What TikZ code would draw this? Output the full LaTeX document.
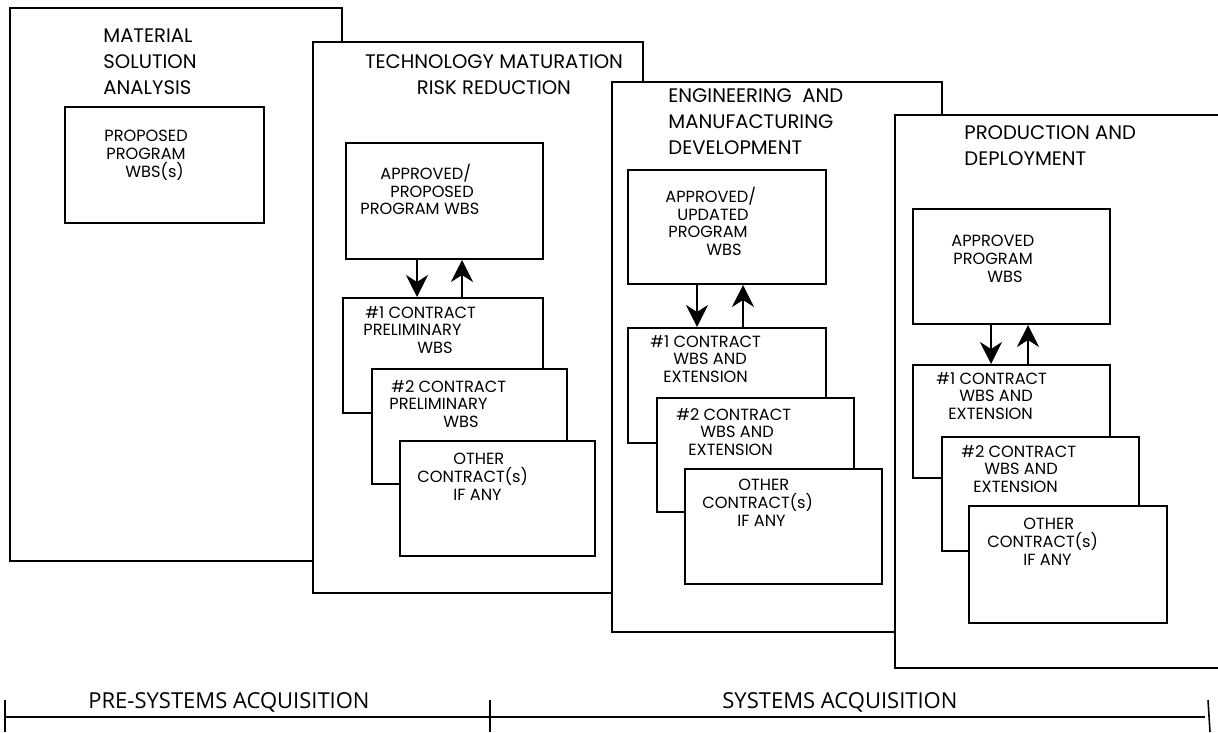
\documentclass[tikz,border=0pt]{standalone}
\usepackage{fontspec}
\setmainfont{Poppins}
\newfontfamily\erafont{Open Sans}
\usetikzlibrary{arrows.meta,fit}

\tikzset{
  phase/.style={draw, line width=1pt, fill=white},
  phasetext/.style={inner sep=0pt, align=left, anchor=north west, font=\fontsize{9.8}{13}\selectfont},
  wbs/.style={draw, line width=1pt, fill=white, inner sep=0pt},
  wbstext/.style={inner sep=0pt, align=left, anchor=north west, font=\fontsize{8.1}{8.8}\selectfont},
  flow/.style={line width=0.9pt, -{Stealth[length=11pt,width=11pt,inset=3.5pt]}},
  era/.style={inner sep=0pt, anchor=west, font=\erafont\fontsize{11}{13}\selectfont}
}

\begin{document}
\begin{tikzpicture}[x=0.5pt,y=-0.5pt]
\useasboundingbox (0,0) rectangle (1218,732);

% material solution analysis
\draw[phase] (10,8) rectangle (342,561);
\node[phasetext] (msa) at (103,28) {MATERIAL\\SOLUTION\\ANALYSIS};
\node[wbs, fit={(65,107) (264,223)}] (msaA) {};
\node[wbstext] (msaAtxt) at (104,130) {PROPOSED\\\hspace*{1pt}PROGRAM\\\hspace*{10.5pt}WBS(s)};

% technology maturation risk reduction
\draw[phase] (313,42) rectangle (643,593);
\node[phasetext, align=center, anchor=north] (tmrr) at (494,54) {TECHNOLOGY MATURATION\\RISK REDUCTION};
\node[wbs, fit={(346,143) (543,259)}] (tmrrA) {};
\node[wbstext] (tmrrAtxt) at (360,164) {\hspace*{10pt}APPROVED/\\\hspace*{15pt}PROPOSED\\PROGRAM WBS};
\node[wbs, fit={(343,298) (543,413)}] (tmrrB) {};
\node[wbstext] (tmrrBtxt) at (363,306) {\hspace*{1pt}\#1 CONTRACT\\PRELIMINARY\\\hspace*{27pt}WBS};
\node[wbs, fit={(372,369) (567,484)}] (tmrrC) {};
\node[wbstext] (tmrrCtxt) at (389,380) {\hspace*{1pt}\#2 CONTRACT\\PRELIMINARY\\\hspace*{27pt}WBS};
\node[wbs, fit={(400,441) (595,556)}] (tmrrD) {};
\node[wbstext] (tmrrDtxt) at (417,453) {\hspace*{18pt}OTHER\\CONTRACT(s)\\\hspace*{18pt}IF ANY};
\draw[flow] (tmrrA.south -| 417,0) -- (tmrrB.north -| 417,0);
\draw[flow] (tmrrB.north -| 462,0) -- (tmrrA.south -| 462,0);

% engineering and manufacturing development
\draw[phase] (612,82) rectangle (942,632);
\node[phasetext] (emd) at (668,88) {ENGINEERING\ \ AND\\MANUFACTURING\\DEVELOPMENT};
\node[wbs, fit={(628,170) (826,284)}] (emdA) {};
\node[wbstext] (emdAtxt) at (665,187) {APPROVED/\\\hspace*{6pt}UPDATED\\\hspace*{1.5pt}PROGRAM\\\hspace*{20.5pt}WBS};
\node[wbs, fit={(628,328) (826,443)}] (emdB) {};
\node[wbstext] (emdBtxt) at (650,335) {\#1 CONTRACT\\\hspace*{11.5pt}WBS AND\\\hspace*{6.5pt}EXTENSION};
\node[wbs, fit={(657,398) (854,512)}] (emdC) {};
\node[wbstext] (emdCtxt) at (676,408) {\#2 CONTRACT\\\hspace*{12pt}WBS AND\\\hspace*{6pt}EXTENSION};
\node[wbs, fit={(685,469) (882,584)}] (emdD) {};
\node[wbstext] (emdDtxt) at (702,479) {\hspace*{18pt}OTHER\\CONTRACT(s)\\\hspace*{17.5pt}IF ANY};
\draw[flow] (emdA.south -| 697,0) -- (emdB.north -| 697,0);
\draw[flow] (emdB.north -| 743,0) -- (emdA.south -| 743,0);

% production and deployment
\draw[phase] (1218,115) -- (895,115) -- (895,668) -- (1218,668);
\node[phasetext] (pd) at (964,125) {PRODUCTION AND\\DEPLOYMENT};
\node[wbs, fit={(913,209) (1110,324)}] (pdA) {};
\node[wbstext] (pdAtxt) at (951,235) {APPROVED\\\hspace*{1pt}PROGRAM\\\hspace*{18pt}WBS};
\node[wbs, fit={(913,365) (1110,478)}] (pdB) {};
\node[wbstext] (pdBtxt) at (936,372) {\#1 CONTRACT\\\hspace*{11.5pt}WBS AND\\\hspace*{6pt}EXTENSION};
\node[wbs, fit={(942,437) (1139,551)}] (pdC) {};
\node[wbstext] (pdCtxt) at (961,445) {\#2 CONTRACT\\\hspace*{11.5pt}WBS AND\\\hspace*{6pt}EXTENSION};
\node[wbs, fit={(969,506) (1167,623)}] (pdD) {};
\node[wbstext] (pdDtxt) at (987,518) {\hspace*{18pt}OTHER\\CONTRACT(s)\\\hspace*{18pt}IF ANY};
\draw[flow] (pdA.south -| 991,0) -- (pdB.north -| 991,0);
\draw[flow] (pdB.north -| 1028,0) -- (pdA.south -| 1028,0);

% acquisition time line
\coordinate (start) at (5,717);
\coordinate (split) at (490,717);
\coordinate (stop) at (1205,717);
\draw[line width=1pt] (start) -- (stop);
\draw[line width=1pt] (start |- 0,700) -- (start |- 0,732);
\draw[line width=1pt] (split |- 0,700) -- (split |- 0,732);
\draw[line width=0.8pt] (1208,700) -- (1210,732);
\node[era] (pre) at (88,702) {PRE-SYSTEMS ACQUISITION};
\node[era] (sys) at (722,702) {SYSTEMS ACQUISITION};
\end{tikzpicture}
\end{document}
